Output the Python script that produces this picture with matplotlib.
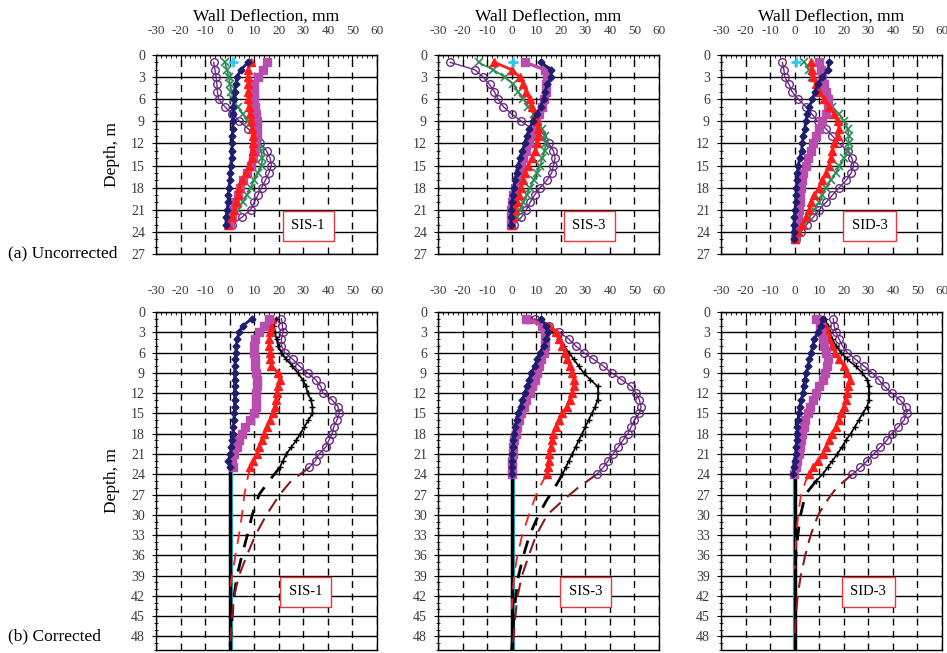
import matplotlib.pyplot as plt
from matplotlib.ticker import MultipleLocator

plt.switch_backend('Agg')
plt.rcParams['font.family'] = ['Liberation Serif', 'DejaVu Serif']
plt.rcParams['axes.unicode_minus'] = False

# depths (m) of the inclinometer readings
depth_23 = [1, 2, 3, 4, 5, 6, 7, 8, 9, 10, 11, 12, 13, 14, 15, 16, 17, 18, 19, 20, 21, 22, 23]
depth_24 = [1, 2, 3, 4, 5, 6, 7, 8, 9, 10, 11, 12, 13, 14, 15, 16, 17, 18, 19, 20, 21, 22, 23, 24]
depth_25 = [1, 2, 3, 4, 5, 6, 7, 8, 9, 10, 11, 12, 13, 14, 15, 16, 17, 18, 19, 20, 21, 22, 23, 24, 25]

# ---- (a) uncorrected, SIS-1 ----
a1_navy = [7.5, 4.5, 3, 2.5, 2, 1.8, 1.5, 1.4, 1.3, 1.2, 1.1, 1.1, 1, 0.8, 0.5, 0.2, 0, -0.3, -0.5, -0.7, -1, -1.5, -1.5]
a1_mag = [15, 13.5, 11.5, 10, 10, 10, 10.3, 10.6, 11, 11, 11, 10.5, 10, 9.5, 8.5, 7, 5.5, 4.2, 3.2, 2.3, 1.5, 0.8, 0]
a1_red = [8.5, 7.5, 7.5, 7.5, 7.5, 7.5, 7.8, 8.2, 8.8, 9.2, 9.5, 9.5, 9.3, 9, 8, 6.5, 5, 4, 3.3, 2.7, 1.8, 0.8, -0.8]
a1_green = [-2, -1, -0.4, 0.2, 0.7, 1.4, 3.2, 5.3, 7.5, 9.3, 11, 12, 12.8, 13.3, 13, 11.5, 10, 8.5, 7, 5.3, 3.3, 1.5, 0.3]
a1_purple = [-6.5, -6, -5.5, -5.2, -5, -4.5, -2, 1, 4, 7.5, 10.5, 12.5, 15, 16.5, 17, 16, 14.5, 13, 11.5, 10, 8.5, 5, 1]
a1_cyan = [1.5]

# ---- (a) uncorrected, SIS-3 ----
a2_navy = [12, 16, 16, 14.5, 13.6, 13, 11.8, 10.3, 8.5, 7.2, 6.2, 5.3, 4.4, 3.5, 2.7, 2, 1.4, 0.9, 0.5, 0.1, -0.2, -0.3, -0.4]
a2_mag = [5.5, 13.5, 14.5, 14, 13.8, 13.2, 12.3, 11.2, 10, 9, 8, 7, 5.8, 4.8, 3.9, 2.9, 2, 1.2, 0.6, 0.2, -0.1, -0.3, -0.3]
a2_red = [-7, 0, 3.4, 4.8, 6, 7.3, 8.2, 9.3, 10.2, 10.6, 10.7, 10.3, 9.5, 8.2, 6.8, 5.5, 4.5, 3.8, 2.8, 2, 1.4, 0.7, 0]
a2_green = [-13.5, -7.5, -2.7, 0.7, 2.7, 4.8, 6.8, 8.9, 10.9, 12.3, 13.6, 13.9, 13.4, 12.5, 11.6, 10.2, 8.9, 7.5, 6.1, 4.8, 3.4, 2, 0.7]
a2_purple = [-25, -15, -11.6, -9, -7, -5.5, -3.4, 0, 4, 8.2, 12.3, 15, 17, 17.7, 17, 16.3, 14.3, 11.6, 9.3, 7.5, 6, 4, 0.8]
a2_cyan = [0.7]

# ---- (a) uncorrected, SID-3 ----
a3_navy = [14, 13.5, 11.3, 9.3, 8.3, 7.2, 6, 5.2, 4.5, 4.1, 3.5, 3.1, 2.8, 2, 1.5, 1.1, 0.8, 0.7, 0.5, 0.4, 0.1, -0.1, -0.3, -0.4, -0.3]
a3_mag = [10, 10.6, 11, 12, 12.7, 13.4, 13.4, 12.7, 11.3, 10, 8.6, 7.5, 6.5, 5.6, 4.5, 3.5, 2.9, 2.5, 2.2, 2, 1.9, 1.5, 1, 0.4, 0]
a3_red = [6.5, 7, 7.5, 8.6, 10, 12, 14, 16, 17.5, 18.1, 17.5, 16.1, 15.4, 14.7, 14, 12.7, 11.3, 10, 8, 6.5, 5.9, 4.5, 2.9, 1.5, 0.2]
a3_green = [4, 6, 7.2, 9.3, 11.3, 13.4, 15.4, 18, 20.2, 21.6, 22, 22, 21.6, 20.2, 18.1, 16.8, 14.7, 12.7, 11.3, 10, 7.9, 5.9, 3.8, 1.8, 0.4]
a3_purple = [-5, -4.4, -4, -2.3, -1, 1.5, 4.5, 7, 9.3, 12.7, 15.4, 18.1, 21.6, 23.3, 24, 23, 21, 18.1, 15.4, 12.7, 10, 7.6, 4.9, 2.5, 0.7]
a3_cyan = [0.4]

# ---- (b) corrected, SIS-1 ----
b1_navy = [9, 5.5, 3.8, 3.1, 2.7, 2.4, 2.2, 2.1, 2, 2, 2, 2, 2, 2, 1.9, 1.7, 1.5, 1.2, 1, 0.7, 0.3, -0.5, 0]
b1_mag = [16, 14, 12, 10.3, 10, 10, 10.2, 10.5, 10.8, 11.2, 11, 10.8, 10.8, 10.6, 10, 8.4, 6.4, 5.1, 3.8, 2.8, 1.7, 0.8, 1.2]
b1_red = [17.1, 16.7, 16.4, 16.1, 16.1, 16.6, 16.4, 17, 19.7, 20.4, 19.7, 19.3, 18.8, 18.4, 17.7, 16.4, 15, 14, 13.1, 12.1, 11.1, 9.7, 8.4]
b1_black = [18.8, 18, 18.4, 19.1, 19.7, 21.1, 23.1, 25.5, 27.7, 29.7, 31.1, 31.7, 33.1, 33.7, 33.7, 32.1, 30.4, 28.8, 27.1, 25.1, 23.1, 21.7, 20.4]
b1_purple = [21.1, 21.5, 21.7, 21.1, 21.1, 22.4, 25.7, 28.4, 31.7, 35, 37.1, 38, 41.7, 44.1, 44.7, 43.7, 42.4, 41.7, 40.4, 39.1, 36.4, 35, 32.4]
b1_red_ext_d = [23, 25, 27, 30, 33, 35, 38, 40, 42]
b1_red_ext = [8.4, 7, 6, 5, 3.8, 2.8, 1.5, 0.5, 0]
b1_black_ext_d = [23, 25, 27, 30, 33, 36, 39, 42, 45, 48, 50]
b1_black_ext = [20.4, 16, 12, 9.2, 7.2, 5, 3, 1.8, 1, 0.5, 0]
b1_purple_ext_d = [23, 25, 27, 30, 33, 36, 39, 42, 45, 48, 50]
b1_purple_ext = [32.4, 25, 20.4, 15, 10.5, 7, 3.8, 1.8, 1, 0.5, 0]
b1_base_d = [23, 50]

# ---- (b) corrected, SIS-3 ----
b2_navy = [12, 14, 14.7, 14, 13, 11.6, 10.4, 9.3, 8, 7.1, 6.3, 5.3, 4.4, 3.6, 2.7, 2, 1.5, 1.1, 0.7, 0.4, 0.2, 0, 0, 0]
b2_mag = [6, 12.5, 13.5, 13.6, 13.5, 13, 12, 11.1, 10.3, 9.3, 8.4, 7.3, 6, 4.9, 4, 3.1, 2.3, 1.6, 1.1, 0.7, 0.4, 0.3, 0.3, 0.3]
b2_red = [6.7, 15.3, 18, 19.3, 20.7, 21.7, 22.7, 23.6, 24.7, 25.3, 25.3, 24.7, 23.6, 22.4, 20.7, 19.1, 18, 16.9, 16.4, 16, 15.3, 15.1, 14.7, 14.4]
b2_black = [8, 12.7, 16.7, 19.3, 21.3, 23.3, 25.3, 27.3, 29.3, 32, 35, 35.3, 35, 34, 32.7, 31.3, 30, 28.7, 27.3, 26, 24.7, 23.3, 22, 20.7]
b2_purple = [9.3, 15.3, 19.3, 23.3, 26, 29.3, 33.3, 37.3, 40.7, 44.7, 48.7, 50.7, 52, 52.7, 52, 50, 48.7, 47.3, 45.3, 43.3, 41.3, 39.3, 37.3, 34.7]
b2_red_ext_d = [24, 25, 27, 30, 33, 36, 39, 42, 44]
b2_red_ext = [14.4, 12.7, 10, 7, 4.3, 2.3, 1, 0.3, 0]
b2_black_ext_d = [24, 26, 28, 30, 33, 36, 39, 42, 45, 48, 50]
b2_black_ext = [20.7, 17.5, 14, 11, 7.3, 4.8, 2.8, 1.7, 0.9, 0.4, 0]
b2_purple_ext_d = [24, 26, 28, 30, 33, 36, 39, 42, 45, 48, 50]
b2_purple_ext = [34.7, 27, 20.5, 14.5, 10, 7, 4.2, 2.4, 1.5, 0.8, 0]
b2_base_d = [24, 50]

# ---- (b) corrected, SID-3 ----
b3_navy = [11.4, 10.7, 9.4, 8, 7.4, 6.7, 6, 5.5, 4.7, 4.2, 3.6, 3.4, 2.7, 2, 1.7, 1.3, 1.1, 0.9, 0.8, 0.6, 0.4, 0, -0.3, -0.6]
b3_mag = [8.5, 10.5, 10.7, 11.4, 12, 12.7, 13.4, 13.3, 12.5, 11.4, 10, 8.7, 7.4, 6.3, 5.4, 4.4, 3.6, 3.1, 2.7, 2.3, 1.7, 1.1, 0.4, -0.3]
b3_red = [10.7, 12.5, 13, 14.1, 15.1, 16.5, 18.1, 20.1, 21.4, 22.4, 21.8, 21.4, 20.8, 20.1, 18.8, 18.1, 16.8, 15.1, 13.8, 12.7, 11.4, 9.4, 7.6, 6]
b3_black = [12.5, 13.4, 14.3, 15.4, 16.8, 18.8, 21.4, 24.8, 27.5, 29.5, 30.2, 30.2, 30.2, 29.5, 27.7, 26.1, 24.5, 22.8, 20.8, 19.2, 17.4, 15.4, 13.4, 11.4, 8.7]
b3_purple = [15.7, 16.1, 16.8, 18.1, 19.4, 21.4, 24.8, 28.2, 31.5, 34.2, 36.6, 39.5, 42.9, 45.2, 45.6, 44.6, 42.2, 39.5, 37.5, 34.9, 32.2, 29.5, 26.8, 23.5]
b3_red_ext_d = [24, 25, 27, 30, 33, 36, 38]
b3_red_ext = [6, 4.5, 2.6, 1.4, 0.7, 0.2, 0]
b3_black_ext_d = [25, 27, 30, 33, 36, 39]
b3_black_ext = [8.7, 4.4, 2.4, 1.3, 0.5, 0]
b3_purple_ext_d = [24, 26, 28, 30, 33, 36, 39, 42, 45, 48]
b3_purple_ext = [23.5, 17, 13, 9.6, 6.5, 4.3, 2.5, 1.2, 0.5, 0.1]
b3_base_d = [24.5, 50]

labels = ['SIS-1', 'SIS-3', 'SID-3']

NAVY = '#1f1d6e'
MAG = '#b84dae'
RED = '#ff1c1c'
GREEN = '#2e8b57'
PURPLE = '#6a2a83'
CYAN = '#33c7f0'
DARKRED = '#8b1a1a'


def setup(ax, ymax, title):
    ax.set_xlim(-30, 60)
    ax.set_ylim(ymax, 0)
    ax.xaxis.set_major_locator(MultipleLocator(10))
    ax.xaxis.set_minor_locator(MultipleLocator(2))
    ax.yaxis.set_major_locator(MultipleLocator(3))
    ax.yaxis.set_minor_locator(MultipleLocator(1))
    ax.xaxis.tick_top()
    ax.tick_params(axis='x', which='major', direction='in', length=4, labelsize=9.5,
                   labelcolor='#3a3a3a', pad=13 if title else 11)
    ax.tick_params(axis='x', which='minor', direction='in', length=2.5)
    ax.tick_params(axis='y', which='major', direction='inout', length=6, labelsize=10,
                   labelcolor='#3a3a3a', pad=5)
    ax.tick_params(axis='y', which='minor', direction='inout', length=3)
    ax.grid(axis='x', which='major', color='black', linestyle=(0, (5, 4)), lw=1)
    ax.grid(axis='y', which='major', color='black', lw=1)
    ax.set_axisbelow(True)
    for s in ax.spines.values():
        s.set_linewidth(1)
    if title:
        ax.set_title('Wall Deflection, mm', fontsize=12.5, pad=3)


def draw_top(ax, d, navy, mag, red, green, purple, cyan):
    ax.plot(purple, d, color=PURPLE, marker='o', mfc='none', ms=5.5, mew=1, lw=1, zorder=3)
    ax.plot(green, d, color=GREEN, marker='x', ms=5.5, mew=1.2, lw=1.2, zorder=3)
    ax.plot(mag, d, color=MAG, marker='s', ms=5.5, lw=2.5, zorder=3)
    ax.plot(red, d, color=RED, marker='^', ms=5.5, lw=2, zorder=3)
    ax.plot(navy, d, color=NAVY, marker='D', ms=3.5, lw=2, zorder=3)
    ax.plot(cyan, d[:1], color=CYAN, marker='+', ms=7, mew=2, lw=0, zorder=3)


def draw_bottom(ax, d, navy, mag, red, black, purple, d_black, ext, base_d, cyan_off):
    red_d, red_x, blk_d, blk_x, pur_d, pur_x = ext
    ax.plot([cyan_off, cyan_off], base_d, color=CYAN, lw=1, zorder=3)
    ax.plot([0, 0], base_d, color='black', lw=2.5, zorder=3)
    ax.plot(red_x, red_d, color=RED, lw=1.3, linestyle=(0, (7, 5)), zorder=3)
    ax.plot(blk_x, blk_d, color='black', lw=2, linestyle=(0, (5, 4)), zorder=3)
    ax.plot(pur_x, pur_d, color=DARKRED, lw=1.5, linestyle=(0, (7, 4)), zorder=3)
    ax.plot(purple, d, color=PURPLE, marker='o', mfc='none', ms=5.5, mew=1, lw=1, zorder=4)
    ax.plot(black, d_black, color='black', marker='+', ms=5, mew=1, lw=1.2, zorder=4)
    ax.plot(red, d, color=RED, marker='^', ms=5.5, lw=2, zorder=4)
    ax.plot(mag, d, color=MAG, marker='s', ms=5.5, lw=2.5, zorder=4)
    ax.plot(navy, d, color=NAVY, marker='D', ms=3.5, lw=2, zorder=4)


def tag(ax, x, y, s):
    ax.text(x, y, s, fontsize=10.5, ha='center', va='center', zorder=6,
            bbox=dict(boxstyle='square,pad=0.6', fc='white', ec='#e8383d', lw=1))


fig = plt.figure(figsize=(9.47, 6.53), dpi=100)
lefts = [156 / 947, 438 / 947, 721 / 947]
w = 221 / 947
top_axes = [fig.add_axes([l, 1 - 254 / 653, w, 199 / 653]) for l in lefts]
bot_axes = [fig.add_axes([l, 1 - 650 / 653, w, 338 / 653]) for l in lefts]

draw_top(top_axes[0], depth_23, a1_navy, a1_mag, a1_red, a1_green, a1_purple, a1_cyan)
draw_top(top_axes[1], depth_23, a2_navy, a2_mag, a2_red, a2_green, a2_purple, a2_cyan)
draw_top(top_axes[2], depth_25, a3_navy, a3_mag, a3_red, a3_green, a3_purple, a3_cyan)

draw_bottom(bot_axes[0], depth_23, b1_navy, b1_mag, b1_red, b1_black, b1_purple, depth_23,
            (b1_red_ext_d, b1_red_ext, b1_black_ext_d, b1_black_ext, b1_purple_ext_d, b1_purple_ext),
            b1_base_d, 0.8)
draw_bottom(bot_axes[1], depth_24, b2_navy, b2_mag, b2_red, b2_black, b2_purple, depth_24,
            (b2_red_ext_d, b2_red_ext, b2_black_ext_d, b2_black_ext, b2_purple_ext_d, b2_purple_ext),
            b2_base_d, 0.8)
draw_bottom(bot_axes[2], depth_24, b3_navy, b3_mag, b3_red, b3_black, b3_purple, depth_25,
            (b3_red_ext_d, b3_red_ext, b3_black_ext_d, b3_black_ext, b3_purple_ext_d, b3_purple_ext),
            b3_base_d, -0.8)

tag_x = [32, 31.5, 30.5]
for ax, lab, tx in zip(top_axes, labels, tag_x):
    setup(ax, 27, True)
    tag(ax, tx, 23.2, lab)
for ax, lab, tx in zip(bot_axes, labels, [31, 30.2, 30]):
    setup(ax, 50, False)
    tag(ax, tx, 41.4, lab)

top_axes[0].set_ylabel('Depth, m', fontsize=12.5, labelpad=8)
bot_axes[0].set_ylabel('Depth, m', fontsize=12.5, labelpad=8)

fig.text(8 / 947, 1 - 253 / 653, '(a) Uncorrected', fontsize=12.5, ha='left', va='center')
fig.text(8 / 947, 1 - 636 / 653, '(b) Corrected', fontsize=12.5, ha='left', va='center')

fig.savefig('out.png', dpi=100)
